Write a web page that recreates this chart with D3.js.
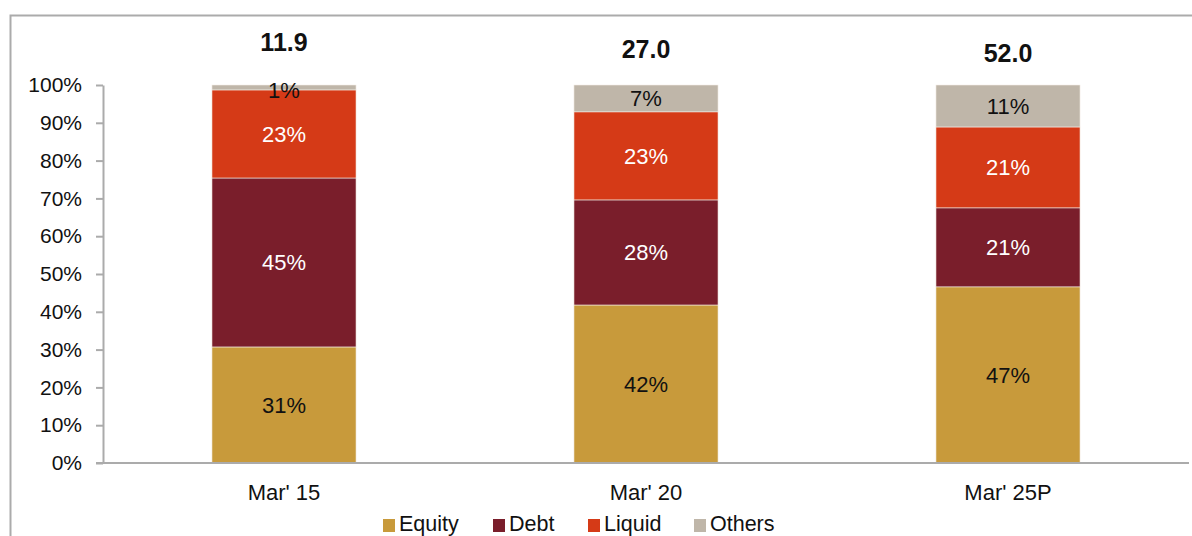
<!doctype html>
<html>
<head>
<meta charset="utf-8">
<script src="https://d3js.org/d3.v7.min.js"></script>
<style>
  body { margin: 0; background: #fff; }
  svg text { font-family: "Liberation Sans", Arial, sans-serif; }
</style>
</head>
<body>
<svg id="chart" width="1192" height="536"></svg>
<script>
// data
var categories = ["Mar' 15", "Mar' 20", "Mar' 25P"];
var totals = ["11.9", "27.0", "52.0"];
var seriesNames = ["Equity", "Debt", "Liquid", "Others"];
var equity = [30.7, 41.8, 46.6];
var debt = [44.7, 27.8, 20.9];
var liquid = [23.3, 23.3, 21.4];
var others = [1.3, 7.1, 11.1];
var yTicks = [0, 10, 20, 30, 40, 50, 60, 70, 80, 90, 100];

var colors = ["#c89a3b", "#7a1e2b", "#d53a17", "#bfb6a9"];
var labelColors = ["#111", "#fff", "#fff", "#111"];
// baselines of the total labels (they do not sit at one height in the original)
var totalBaseline = [51, 58, 62];

var svg = d3.select("#chart");
var margin = {top: 85, bottom: 73, left: 103, right: 3};
var W = 1192, H = 536;

// outer frame
svg.append("path")
    .attr("d", `M10.5 ${H} V15.5 H${W}`)
    .attr("fill", "none")
    .attr("stroke", "#ababab")
    .attr("stroke-width", 2);

var x = d3.scaleBand()
    .domain(categories)
    .range([margin.left, W - margin.right])
    .paddingInner(0.602)
    .paddingOuter(0.301);

var y = d3.scaleLinear()
    .domain([0, 100])
    .range([H - margin.bottom, margin.top]);

var table = categories.map((c, i) => ({
    cat: c, Equity: equity[i], Debt: debt[i], Liquid: liquid[i], Others: others[i]
}));
var stacked = d3.stack().keys(seriesNames)(table);

var layer = svg.selectAll("g.layer")
    .data(stacked)
    .enter().append("g")
    .attr("class", "layer");

layer.selectAll("rect")
    .data(d => d)
    .enter().append("rect")
    .attr("x", d => x(d.data.cat))
    .attr("width", x.bandwidth())
    .attr("y", d => y(d[1]))
    .attr("height", d => y(d[0]) - y(d[1]))
    .attr("fill", function() { return colors[d3.select(this.parentNode).datum().index]; })
    .attr("stroke", "#f3eee6")
    .attr("stroke-width", 0.6);

layer.selectAll("text")
    .data(d => d)
    .enter().append("text")
    .attr("x", d => x(d.data.cat) + x.bandwidth() / 2)
    .attr("y", d => (y(d[0]) + y(d[1])) / 2)
    .attr("dy", function(d) {
        // 1% slice is too thin, label hangs just below the top
        return (d[1] - d[0]) < 3 ? "0.5em" : "0.36em";
    })
    .attr("text-anchor", "middle")
    .attr("font-size", 22)
    .attr("fill", function() { return labelColors[d3.select(this.parentNode).datum().index]; })
    .text(d => Math.round(d[1] - d[0]) + "%");

// totals on top
svg.selectAll("text.total")
    .data(categories)
    .enter().append("text")
    .attr("class", "total")
    .attr("x", d => x(d) + x.bandwidth() / 2)
    .attr("y", (d, i) => totalBaseline[i])
    .attr("text-anchor", "middle")
    .attr("font-size", 25)
    .attr("font-weight", "bold")
    .attr("fill", "#111")
    .text((d, i) => totals[i]);

// y axis
var yAxis = svg.append("g")
    .attr("transform", `translate(${margin.left},0)`)
    .call(d3.axisLeft(y).tickValues(yTicks).tickFormat(d => d + "%").tickSize(7).tickSizeOuter(0).tickPadding(14));
yAxis.selectAll("line, path").attr("stroke", "#ababab").attr("stroke-width", 2);
yAxis.selectAll("text").attr("font-size", 21).attr("fill", "#111")
    .attr("font-family", "Liberation Sans, Arial, sans-serif");

// x axis
var xAxis = svg.append("g")
    .attr("transform", `translate(0,${H - margin.bottom})`)
    .call(d3.axisBottom(x).tickSize(0).tickSizeOuter(0).tickPadding(21));
xAxis.select("path").attr("d", `M${margin.left - 7},0H${W - margin.right}`)
    .attr("stroke", "#ababab").attr("stroke-width", 2);
xAxis.selectAll("text").attr("font-size", 22).attr("fill", "#111")
    .attr("font-family", "Liberation Sans, Arial, sans-serif");

// legend
var legendX = [383, 493, 588, 694];
var legend = svg.selectAll("g.legend")
    .data(seriesNames)
    .enter().append("g")
    .attr("class", "legend")
    .attr("transform", (d, i) => `translate(${legendX[i]},519)`);
legend.append("rect")
    .attr("width", 12).attr("height", 13)
    .attr("fill", (d, i) => colors[i]);
legend.append("text")
    .attr("x", 16).attr("y", 12)
    .attr("font-size", 21.5)
    .attr("fill", "#111")
    .text(d => d);
</script>
</body>
</html>
